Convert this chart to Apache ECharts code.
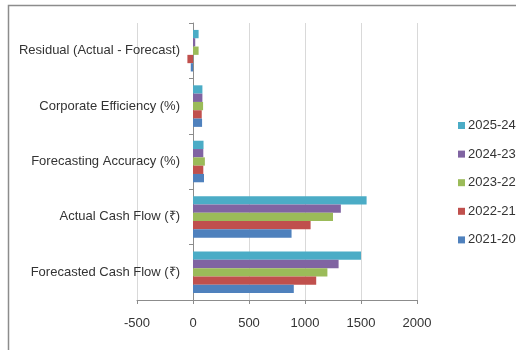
<!DOCTYPE html>
<html>
<head>
<meta charset="utf-8">
<script src="https://cdn.jsdelivr.net/npm/echarts@6/dist/echarts.min.js"></script>
<style>html,body{margin:0;padding:0;background:#fff;}#c{width:516px;height:350px;}</style>
</head>
<body>
<div id="c"></div>
<script>
const categories = ['Forecasted Cash Flow (₹)', 'Actual Cash Flow (₹)', 'Forecasting Accuracy (%)', 'Corporate Efficiency (%)', 'Residual (Actual - Forecast)'];
const seriesNames = ['2021-20', '2022-21', '2023-22', '2024-23', '2025-24'];
const v2021_20 = [900, 880, 98, 81, -20];
const v2022_21 = [1100, 1050, 92, 78, -50];
const v2023_22 = [1200, 1250, 106, 90, 50];
const v2024_23 = [1300, 1320, 92, 84, 20];
const v2025_24 = [1500, 1550, 94, 84, 50];
const xTicks = { min: -500, max: 2000, interval: 500 };
const colors = ['#4F81BD', '#C0504D', '#9BBB59', '#8064A2', '#4BACC6'];
const values = [v2021_20, v2022_21, v2023_22, v2024_23, v2025_24];

const font = 'Liberation Sans, Arial, sans-serif';
const chart = echarts.init(document.getElementById('c'), null, { renderer: 'canvas' });
const order = [4, 3, 2, 1, 0];
chart.setOption({
  animation: false,
  backgroundColor: '#fff',
  graphic: [{
    type: 'rect', shape: { x: 8.5, y: 5.5, width: 600, height: 400 },
    style: { fill: 'none', stroke: '#8c8c8c', lineWidth: 1.5 }, z: 100
  }],
  grid: { left: 137, right: 99, top: 23, bottom: 50, containLabel: false, outerBoundsMode: 'none' },
  legend: {
    orient: 'vertical', left: 453, top: 114, itemWidth: 7, itemHeight: 7, itemGap: 15.6,
    icon: 'rect', data: seriesNames.slice().reverse(),
    textStyle: { fontFamily: font, fontSize: 13, color: '#333', padding: [0, 0, 0, -2] }
  },
  xAxis: {
    type: 'value', min: xTicks.min, max: xTicks.max, interval: xTicks.interval,
    axisLine: { show: true, onZero: false, lineStyle: { color: '#8c8c8c' } },
    axisTick: { show: true, length: 4, lineStyle: { color: '#8c8c8c' } },
    axisLabel: { margin: 17, fontFamily: font, fontSize: 13, color: '#333', formatter: v => String(v) },
    splitLine: { show: true, lineStyle: { color: '#d9d9d9' } }
  },
  yAxis: {
    type: 'category', data: categories,
    axisLine: { show: true, onZero: true, lineStyle: { color: '#8c8c8c' } },
    axisTick: { show: true, length: 4, lineStyle: { color: '#8c8c8c' } },
    axisLabel: { margin: -43, fontFamily: font, fontSize: 13, color: '#333' },
    splitLine: { show: false }
  },
  series: order.map(i => ({
    name: seriesNames[i], type: 'bar', data: values[i], barGap: '0%', barCategoryGap: '25%',
    itemStyle: { color: colors[i] }
  }))
});
</script>
</body>
</html>
